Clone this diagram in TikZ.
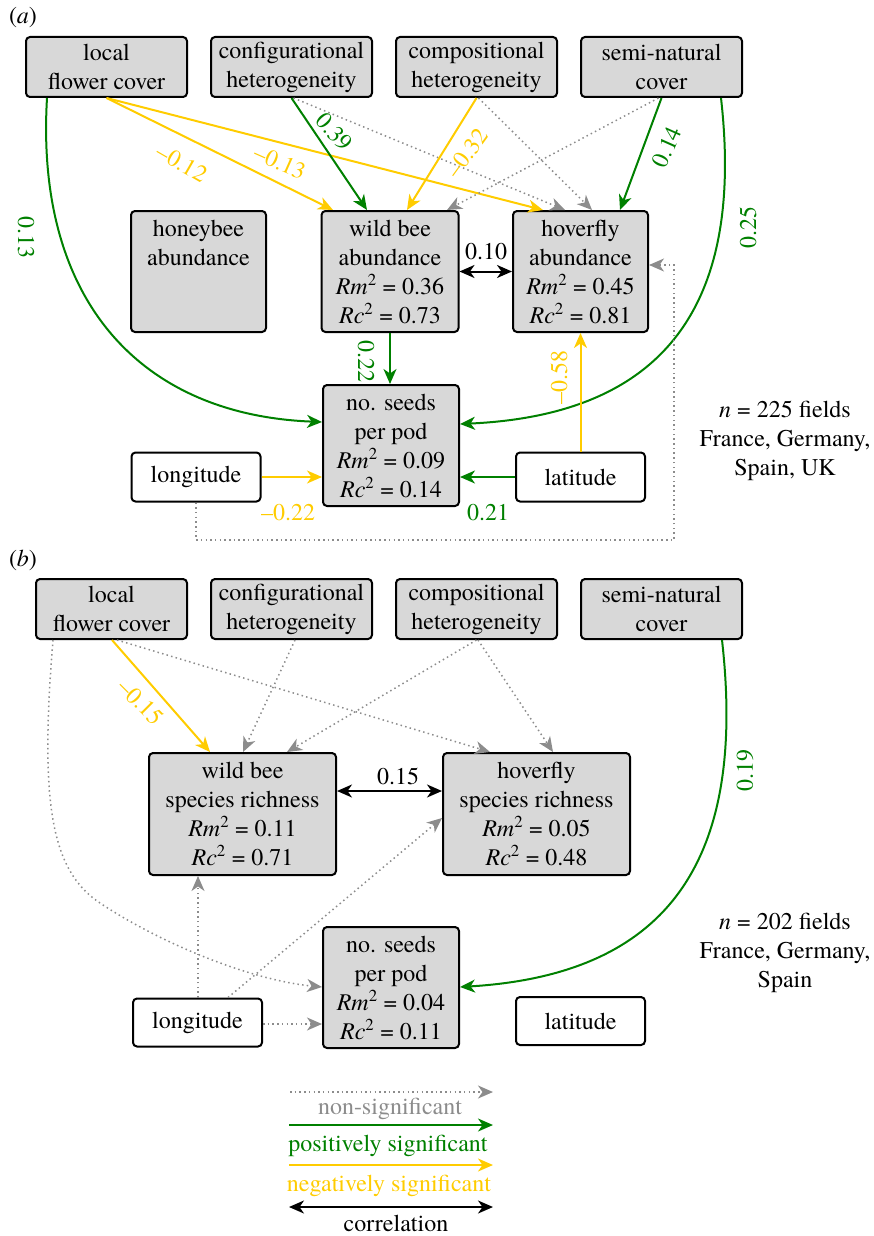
\documentclass[tikz,border=0pt]{standalone}
\usepackage{fontspec}
\setmainfont{texgyretermes}[Extension=.otf, UprightFont=*-regular, ItalicFont=*-italic, BoldFont=*-bold, BoldItalicFont=*-bolditalic]
\usetikzlibrary{arrows.meta}
\definecolor{sigG}{RGB}{0,128,0}
\definecolor{sigY}{RGB}{255,204,0}
\definecolor{nsG}{RGB}{140,140,140}
\definecolor{boxG}{RGB}{216,216,216}
\newcommand{\bigfont}{\fontsize{24}{29}\selectfont}
\newcommand{\Rmsq}{\textit{Rm}\textsuperscript{2}}
\newcommand{\Rcsq}{\textit{Rc}\textsuperscript{2}}
\tikzset{
  gbox/.style={draw=black, fill=boxG, rounded corners=4pt, line width=2pt, align=center, inner sep=0pt, font=\bigfont},
  wbox/.style={gbox, fill=white},
  tipS/.tip={Stealth[length=15pt,width=13pt,inset=4.5pt]},
  posarrow/.style={draw=sigG, line width=2pt, -tipS},
  negarrow/.style={draw=sigY, line width=2pt, -tipS},
  nsarrow/.style={draw=nsG, line width=1.5pt, dash pattern=on 1.5pt off 3.2pt, -tipS},
  corarrow/.style={draw=black, line width=2pt, tipS-tipS},
  lab/.style={font=\bigfont, inner sep=0pt},
  glab/.style={lab, text=sigG},
  ylab/.style={lab, text=sigY},
}
\begin{document}
\begin{tikzpicture}[x=1pt,y=-1pt]
\useasboundingbox (0,0) rectangle (874,1236);

% ---------------- (a) ----------------
\node[lab] (tagA) at (23,18) {(\textit{a})};
\node[gbox, minimum width=161, minimum height=60] (lfa) at (106.5,67) {local\\flower cover};
\node[gbox, minimum width=161, minimum height=60] (cfa) at (291.5,67) {configurational\\heterogeneity};
\node[gbox, minimum width=161, minimum height=60] (cpa) at (476.5,67) {compositional\\heterogeneity};
\node[gbox, minimum width=161, minimum height=60] (sna) at (661.5,67) {semi-natural\\cover};
\node[gbox, minimum width=135, minimum height=121] (hba) at (198.5,271.5) {honeybee\\abundance\\\mbox{}\\\mbox{}};
\node[gbox, minimum width=137, minimum height=121] (wba) at (390,271.5) {wild bee\\abundance\\\Rmsq{} = 0.36\\\Rcsq{} = 0.73};
\node[gbox, minimum width=135, minimum height=121] (hva) at (580.5,271.5) {hoverfly\\abundance\\\Rmsq{} = 0.45\\\Rcsq{} = 0.81};
\node[gbox, minimum width=136, minimum height=121] (sda) at (391,445.5) {no. seeds\\per pod\\\Rmsq{} = 0.09\\\Rcsq{} = 0.14};
\node[wbox, minimum width=129, minimum height=49] (loa) at (196,477) {longitude};
\node[wbox, minimum width=129, minimum height=49] (laa) at (580.5,477) {latitude};
\node[lab, align=center] (na) at (785,441) {\textit{n} = 225 fields\\France, Germany,\\Spain, UK};

\draw[negarrow] (lfa.south) -- ([xshift=-57]wba.north);
\draw[negarrow] (lfa.south) -- ([xshift=-37.5]hva.north);
\draw[nsarrow] ([xshift=2]cfa.south) -- ([xshift=-15.5]hva.north);
\draw[nsarrow] ([xshift=2]cpa.south) -- ([xshift=11.5]hva.north);
\draw[nsarrow] ([xshift=-3]sna.south) -- ([xshift=57]wba.north);
\draw[posarrow] (cfa.south) -- ([xshift=-23]wba.north);
\draw[negarrow] (cpa.south) -- ([xshift=17]wba.north);
\draw[posarrow] (sna.south) -- ([xshift=39.5]hva.north);
\draw[posarrow] ([xshift=-59.5]lfa.south) .. controls (35,300) and (140,415) .. ([yshift=23.5]sda.west);
\draw[posarrow] ([xshift=59.5]sna.south) .. controls (745,310) and (660,415) .. ([yshift=21.5]sda.east);
\draw[posarrow] (wba.south) -- (wba.south |- sda.north);
\draw[negarrow] (laa.north) -- (hva.south);
\draw[negarrow] (loa.east) -- (loa.east -| sda.west);
\draw[posarrow] (laa.west) -- (laa.west -| sda.east);
\draw[corarrow] (wba.east) -- (hva.west);
\coordinate (cornA) at (674,540);
\draw[nsarrow] (loa.south) |- (cornA) |- ([yshift=6.5]hva.east);

\node[ylab, rotate=-30] (l1) at (182,163) {--0.12};
\node[ylab, rotate=-24] (l2) at (280,162) {--0.13};
\node[glab, rotate=-48] (l3) at (334,132) {0.39};
\node[ylab, rotate=54] (l4) at (467,153) {--0.32};
\node[glab, rotate=66] (l5) at (667,147) {0.14};
\node[glab, rotate=-90] (l6) at (26,237) {0.13};
\node[glab, rotate=90] (l7) at (748,227) {0.25};
\node[lab] (l8) at (486,252) {0.10};
\node[glab, rotate=-90] (l9) at (366,361) {0.22};
\node[ylab, rotate=90] (l10) at (559,377) {--0.58};
\node[ylab] (l11) at (288,513) {--0.22};
\node[glab] (l12) at (488,513) {0.21};

% ---------------- (b) ----------------
\node[lab] (tagB) at (23,560) {(\textit{b})};
\node[gbox, minimum width=151, minimum height=60] (lfb) at (111.5,609) {local\\flower cover};
\node[gbox, minimum width=161, minimum height=60] (cfb) at (291.5,609) {configurational\\heterogeneity};
\node[gbox, minimum width=161, minimum height=60] (cpb) at (476.5,609) {compositional\\heterogeneity};
\node[gbox, minimum width=161, minimum height=60] (snb) at (661.5,609) {semi-natural\\cover};
\node[gbox, minimum width=187, minimum height=122] (wbb) at (242.5,814) {wild bee\\species richness\\\Rmsq{} = 0.11\\\Rcsq{} = 0.71};
\node[gbox, minimum width=187, minimum height=122] (hvb) at (536.5,814) {hoverfly\\species richness\\\Rmsq{} = 0.05\\\Rcsq{} = 0.48};
\node[gbox, minimum width=136, minimum height=121] (sdb) at (391,987.5) {no. seeds\\per pod\\\Rmsq{} = 0.04\\\Rcsq{} = 0.11};
\node[wbox, minimum width=129, minimum height=48] (lob) at (197.5,1022.5) {longitude};
\node[wbox, minimum width=129, minimum height=48] (latb) at (580.5,1021) {latitude};
\node[lab, align=center] (nb) at (785,953) {\textit{n} = 202 fields\\France, Germany,\\Spain};

\draw[nsarrow] ([xshift=5.5]lfb.south) -- ([xshift=-46.5]hvb.north);
\draw[nsarrow] ([xshift=3.5]cfb.south) -- ([xshift=0.5]wbb.north);
\draw[nsarrow] (cpb.south) -- ([xshift=44.5]wbb.north);
\draw[nsarrow] ([xshift=1.5]cpb.south) -- ([xshift=16.5]hvb.north);
\draw[negarrow] ([xshift=0.5]lfb.south) -- ([xshift=-32.5]wbb.north);
\draw[nsarrow] ([xshift=-58.5]lfb.south) .. controls (40,800) and (50,870) .. (100,903) .. controls (160,943) and (250,980) .. ([yshift=0.5]sdb.west);
\draw[nsarrow] ([xshift=0.5]lob.north) -- ([xshift=-44.5]wbb.south);
\draw[nsarrow] ([xshift=30.5]lob.north) -- ([yshift=-4]hvb.west);
\draw[nsarrow] ([yshift=-1.5]lob.east) -- ([yshift=-1.5]lob.east -| sdb.west);
\draw[posarrow] ([xshift=60.5]snb.south) .. controls (748,870) and (660,975) .. ([yshift=0.5]sdb.east);
\draw[corarrow] ([yshift=23]wbb.east) -- ([yshift=23]hvb.west);

\node[ylab, rotate=-45] (m1) at (141,702) {--0.15};
\node[glab, rotate=90] (m2) at (745,770) {0.19};
\node[lab] (m3) at (398,776) {0.15};

% ---------------- legend ----------------
\coordinate (g1a) at (290,1092); \coordinate (g1b) at (493,1092);
\coordinate (g2a) at (289,1125); \coordinate (g2b) at (493,1125);
\coordinate (g3a) at (289,1165); \coordinate (g3b) at (493,1165);
\coordinate (g4a) at (289,1207); \coordinate (g4b) at (493,1207);
\draw[nsarrow] (g1a) -- (g1b);
\draw[posarrow] (g2a) -- (g2b);
\draw[negarrow] (g3a) -- (g3b);
\draw[corarrow] (g4a) -- (g4b);
\node[lab, text=nsG, anchor=base] (t1) at (390,1114) {non-significant};
\node[lab, text=sigG, anchor=base] (t2) at (388,1151) {positively significant};
\node[lab, text=sigY, anchor=base] (t3) at (389,1191) {negatively significant};
\node[lab, anchor=base] (t4) at (396,1231) {correlation};
\end{tikzpicture}
\end{document}
